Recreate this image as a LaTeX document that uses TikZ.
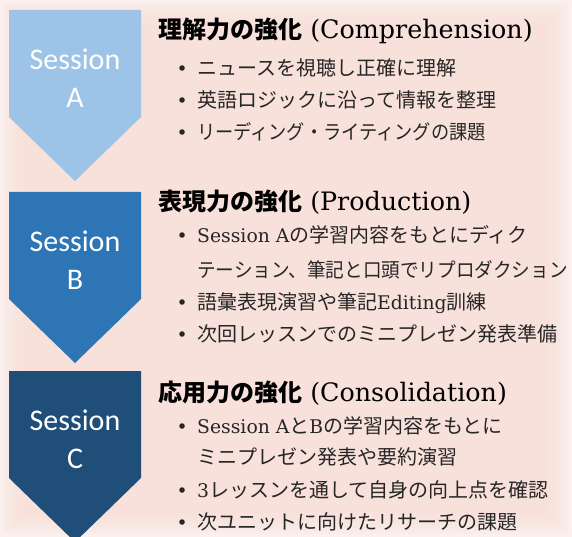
\documentclass[tikz,border=0pt]{standalone}
\usepackage{fontspec}
\usepackage{graphicx}
\setmainfont{DejaVu Serif}[Scale=0.94]
\newfontfamily\jpfont{Noto Sans CJK JP}
\newfontfamily\sessfont{Carlito}
\usepackage{tikz}

\definecolor{bgpink}{RGB}{248,222,216}
\definecolor{sessA}{RGB}{157,195,230}
\definecolor{sessB}{RGB}{46,117,182}
\definecolor{sessC}{RGB}{31,78,121}
\definecolor{bodytext}{RGB}{38,38,38}

\newcommand{\lat}[1]{{\rmfamily\mdseries #1}}
\newcommand{\hlat}[1]{{\rmfamily\mdseries\fontsize{27}{30}\selectfont #1}}
\newcommand{\itm}{\llap{\makebox[30pt][c]{\rmfamily\textbullet}}}

\begin{document}
\begin{tikzpicture}[x=1pt, y=-1pt,
    sesslabel/.style={text=white, align=center, inner sep=0pt, font=\sessfont\fontsize{30}{38}\selectfont},
    heading/.style={anchor=west, inner sep=0pt, text height=21pt, text depth=3pt, font=\jpfont\bfseries\fontsize{24}{28}\selectfont},
    item/.style={anchor=west, inner sep=0pt, text=bodytext, text height=17.6pt, text depth=2.4pt, font=\jpfont\fontsize{20}{24}\selectfont}
]

% Background
\useasboundingbox (0,0) rectangle (572,537);
\fill[white] (0,0) rectangle (572,537);
\fill[bgpink, opacity=0.45] (0,0) rectangle (572,537);
\foreach \i in {1,...,8}
    \fill[bgpink, opacity=0.15] (\i*3, \i*3) rectangle (572-\i*3, 537-\i*3);

% Sessions
\foreach \top/\col/\lbl in {10/sessA/A, 192/sessB/B, 371/sessC/C} {
    \fill[\col] (9,\top) -- (141,\top) -- (141,\top+107) -- (75,\top+171) -- (9,\top+107) -- cycle;
    \node[sesslabel] (sess\lbl) at (75,\top+68) {Session\\\lbl};
}

% Session A
\node[heading] (headA) at (158,30) {理解力の強化\hlat{ (Comprehension)}};
\node[item] (itemA1) at (197,68) {\itm ニュースを視聴し正確に理解};
\node[item] (itemA2) at (197,100) {\itm 英語ロジックに沿って情報を整理};
\node[item] (itemA3) at (197,132) {\itm \scalebox{0.91}[1]{リーディング・ライティングの課題}};

% Session B
\node[heading] (headB) at (158,202) {表現力の強化\hlat{ (Production)}};
\node[item] (itemB1) at (197,235) {\itm \lat{Session A}の学習内容をもとにディク};
\node[item] (itemB1b) at (197,270) {\scalebox{0.93}[1]{テーション、筆記と口頭でリプロダクション}};
\node[item] (itemB2) at (197,302) {\itm 語彙表現演習や筆記\lat{Editing}訓練};
\node[item] (itemB3) at (197,334) {\itm 次回レッスンでのミニプレゼン発表準備};

% Session C
\node[heading] (headC) at (158,392) {応用力の強化\hlat{ (Consolidation)}};
\node[item] (itemC1) at (197,426) {\itm \lat{Session A}と\lat{B}の学習内容をもとに};
\node[item] (itemC1b) at (197,457) {ミニプレゼン発表や要約演習};
\node[item] (itemC2) at (197,490) {\itm \lat{3}レッスンを通して自身の向上点を確認};
\node[item] (itemC3) at (197,522) {\itm 次ユニットに向けたリサーチの課題};

\end{tikzpicture}
\end{document}
